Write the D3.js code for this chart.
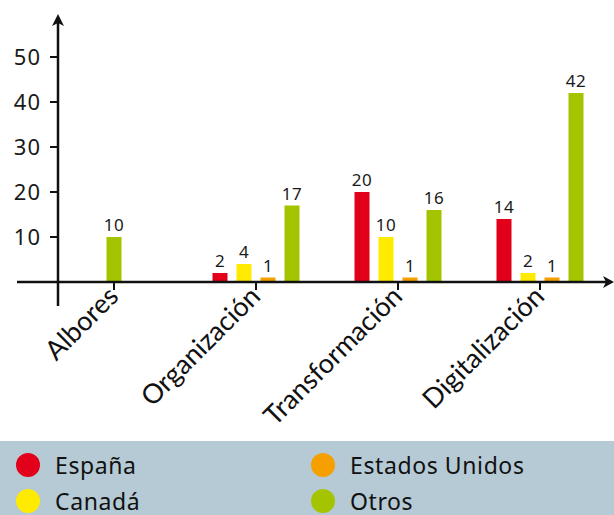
<!DOCTYPE html>
<html>
<head>
<meta charset="utf-8">
<script src="https://cdn.jsdelivr.net/npm/d3@7"></script>
<style>
  body { margin: 0; background: #fff; }
  svg { display: block; }
</style>
</head>
<body>
<div id="chart"></div>
<script>
// categories and series
var categories = ["Albores", "Organización", "Transformación", "Digitalización"];
var series = ["España", "Canadá", "Estados Unidos", "Otros"];
var espana = [null, 2, 20, 14];
var canada = [null, 4, 10, 2];
var eeuu = [null, 1, 1, 1];
var otros = [10, 17, 16, 42];
var yTicks = [10, 20, 30, 40, 50];

var colors = ["#e2001a", "#ffeb00", "#f5a000", "#a5c400"];

var width = 614, height = 515;

var svg = d3.select("#chart").append("svg")
    .attr("width", width)
    .attr("height", height);

var y = d3.scaleLinear().domain([0, 50]).range([282, 57]);
var x = d3.scalePoint().domain(categories).range([114, 540]);
var color = d3.scaleOrdinal().domain(series).range(colors);

var values = [espana, canada, eeuu, otros];

// bars, grouped around each category position (only series with a value)
var groups = categories.map(function (c, i) {
    var items = [];
    series.forEach(function (s, j) {
        if (values[j][i] != null) items.push({ cat: c, series: s, value: values[j][i] });
    });
    var sub = d3.scaleBand()
        .domain(items.map(function (d) { return d.series; }))
        .range([-items.length * 12, items.length * 12])
        .paddingInner(0.375)
        .paddingOuter(0.1875);
    items.forEach(function (d) {
        d.x = x(c) + sub(d.series);
        d.w = sub.bandwidth();
    });
    return items;
});
var bars = [].concat.apply([], groups);

svg.append("g").selectAll("rect")
    .data(bars)
    .enter().append("rect")
    .attr("x", function (d) { return d.x; })
    .attr("y", function (d) { return y(d.value); })
    .attr("width", function (d) { return d.w; })
    .attr("height", function (d) { return y(0) - y(d.value); })
    .attr("fill", function (d) { return color(d.series); });

svg.append("g").selectAll("text")
    .data(bars)
    .enter().append("text")
    .attr("x", function (d) { return d.x + d.w / 2; })
    .attr("y", function (d) { return y(d.value) - 6; })
    .attr("text-anchor", "middle")
    .attr("font-family", "Noto Sans")
    .attr("font-size", 17)
    .attr("letter-spacing", 0.5)
    .attr("fill", "#1a1a1a")
    .text(function (d) { return d.value; });

// axes
var axisColor = "#111";
var x0 = 58;

svg.append("line")
    .attr("x1", 17).attr("x2", 606)
    .attr("y1", y(0)).attr("y2", y(0))
    .attr("stroke", axisColor).attr("stroke-width", 2.5);
svg.append("path")
    .attr("d", "M614," + y(0) + " L603," + (y(0) - 6) + " L606," + y(0) + " L603," + (y(0) + 6) + "Z")
    .attr("fill", axisColor);

svg.append("line")
    .attr("x1", x0).attr("x2", x0)
    .attr("y1", 306).attr("y2", 23)
    .attr("stroke", axisColor).attr("stroke-width", 2.5);
svg.append("path")
    .attr("d", "M" + x0 + ",14 L" + (x0 - 6) + ",26 L" + x0 + ",23 L" + (x0 + 6) + ",26Z")
    .attr("fill", axisColor);

// y ticks
var yt = svg.append("g").selectAll("g")
    .data(yTicks)
    .enter().append("g");
yt.append("line")
    .attr("x1", x0 - 8).attr("x2", x0)
    .attr("y1", function (d) { return y(d); })
    .attr("y2", function (d) { return y(d); })
    .attr("stroke", axisColor).attr("stroke-width", 2);
yt.append("text")
    .attr("x", 41)
    .attr("y", function (d) { return y(d); })
    .attr("dy", "0.36em")
    .attr("text-anchor", "end")
    .attr("font-family", "Noto Sans")
    .attr("font-size", 22)
    .attr("letter-spacing", 1)
    .attr("fill", "#1a1a1a")
    .text(function (d) { return d; });

// x ticks and rotated labels
var xt = svg.append("g").selectAll("g")
    .data(categories)
    .enter().append("g");
xt.append("line")
    .attr("x1", function (d) { return x(d); })
    .attr("x2", function (d) { return x(d); })
    .attr("y1", y(0)).attr("y2", y(0) + 8)
    .attr("stroke", axisColor).attr("stroke-width", 2);
xt.append("text")
    .attr("transform", function (d) { return "translate(" + (x(d) + 6) + "," + (y(0) + 16) + ") rotate(-45)"; })
    .attr("text-anchor", "end")
    .attr("font-family", "Lato")
    .attr("font-size", 27)
    .attr("fill", "#111")
    .text(function (d) { return d; });

// legend
svg.append("rect")
    .attr("x", 0).attr("y", 441)
    .attr("width", width).attr("height", height - 441)
    .attr("fill", "#b5cad5");

var legendPos = [[28, 465], [28, 501], [323, 465], [323, 501]];
var lg = svg.append("g").selectAll("g")
    .data(series)
    .enter().append("g")
    .attr("transform", function (d, i) { return "translate(" + legendPos[i][0] + "," + legendPos[i][1] + ")"; });
lg.append("circle")
    .attr("r", 12)
    .attr("fill", function (d) { return color(d); });
lg.append("text")
    .attr("x", 27)
    .attr("y", 9)
    .attr("font-family", "Noto Sans")
    .attr("font-size", 23)
    .attr("letter-spacing", 0.6)
    .attr("fill", "#111")
    .text(function (d) { return d; });
</script>
</body>
</html>
